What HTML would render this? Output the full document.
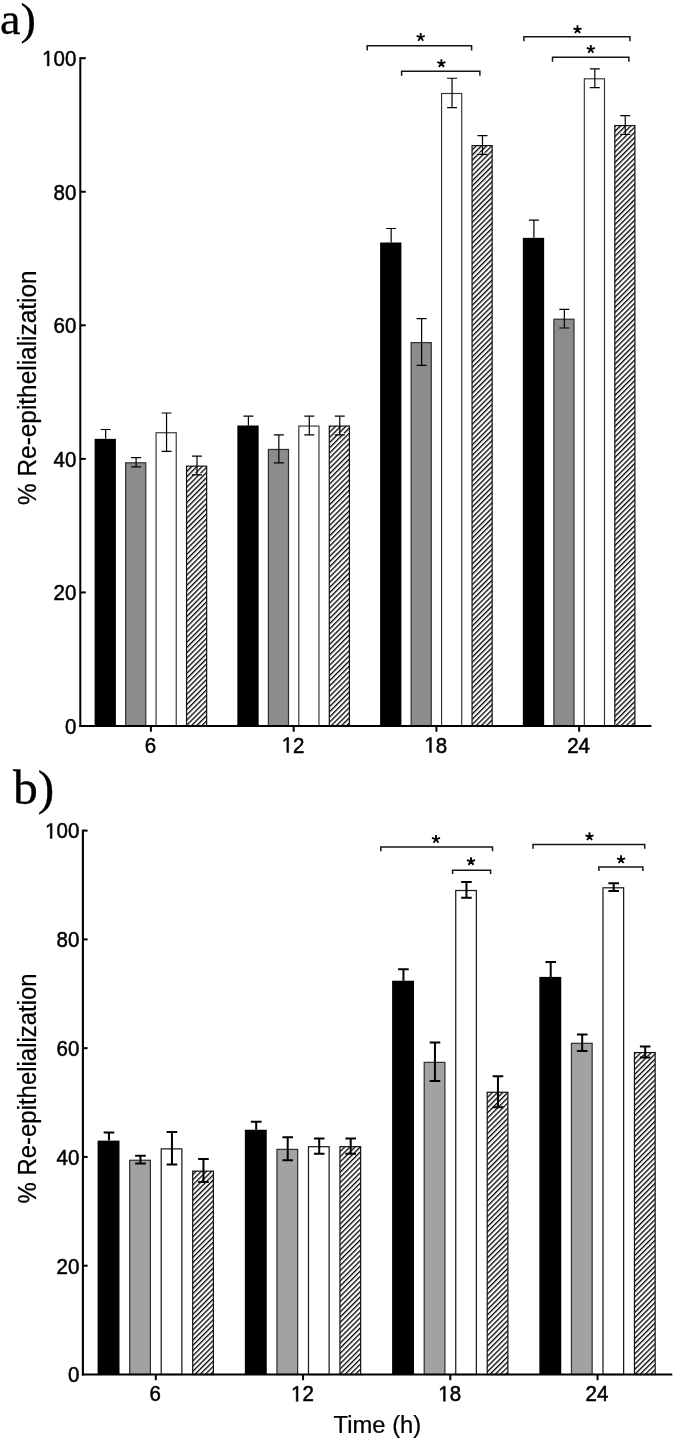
<!DOCTYPE html>
<html><head><meta charset="utf-8"><title>Re-epithelialization</title>
<style>html,body{margin:0;padding:0;background:#fff}body{width:675px;height:1440px;overflow:hidden;font-family:"Liberation Sans",sans-serif}svg{display:block;filter:grayscale(1)}</style>
</head><body>
<svg width="675" height="1440" viewBox="0 0 675 1440">
<defs><pattern id="hatch" patternUnits="userSpaceOnUse" width="3.66" height="3.66" patternTransform="rotate(45)"><rect width="3.66" height="3.66" fill="#fff"/><rect x="0" y="0" width="1.3" height="3.66" fill="#000"/></pattern></defs>
<rect width="675" height="1440" fill="#fff"/>
<rect x="94.6" y="438.85" width="21.3" height="287.15" fill="#000"/>
<path d="M105.65 438.85V429.5M100.65 429.5H110.65" stroke="#000" stroke-width="1.2" fill="none"/>
<rect x="125.65" y="462.82" width="20.1" height="263.18" fill="#8c8c8c" stroke="#2e2e2e" stroke-width="1.2"/>
<path d="M136.1 457.54V466.89M131.1 457.54H141.1M131.1 466.89H141.1" stroke="#000" stroke-width="1.2" fill="none"/>
<rect x="156.07" y="432.74" width="20.15" height="293.26" fill="#fff" stroke="#333" stroke-width="1.15"/>
<path d="M166.55 413V451.33M161.55 413H171.55M161.55 451.33H171.55" stroke="#000" stroke-width="1.2" fill="none"/>
<rect x="186.55" y="466.16" width="20.1" height="259.84" fill="url(#hatch)" stroke="#111" stroke-width="1.2"/>
<path d="M192.5 473.76H196.35M197.65 473.76H201.5" stroke="#fff" stroke-width="1" fill="none"/>
<path d="M197 456.21V474.91M192 456.21H202M192 474.91H202" stroke="#000" stroke-width="1.2" fill="none"/>
<rect x="237.35" y="425.49" width="21.3" height="300.51" fill="#000"/>
<path d="M248.4 425.49V416.14M243.4 416.14H253.4" stroke="#000" stroke-width="1.2" fill="none"/>
<rect x="268.4" y="449.46" width="20.1" height="276.54" fill="#8c8c8c" stroke="#2e2e2e" stroke-width="1.2"/>
<path d="M278.85 434.84V462.89M273.85 434.84H283.85M273.85 462.89H283.85" stroke="#000" stroke-width="1.2" fill="none"/>
<rect x="298.82" y="426.06" width="20.15" height="299.94" fill="#fff" stroke="#333" stroke-width="1.15"/>
<path d="M309.3 416.14V434.84M304.3 416.14H314.3M304.3 434.84H314.3" stroke="#000" stroke-width="1.2" fill="none"/>
<rect x="329.3" y="426.09" width="20.1" height="299.91" fill="url(#hatch)" stroke="#111" stroke-width="1.2"/>
<path d="M335.25 433.69H339.1M340.4 433.69H344.25" stroke="#fff" stroke-width="1" fill="none"/>
<path d="M339.75 416.14V434.84M334.75 416.14H344.75M334.75 434.84H344.75" stroke="#000" stroke-width="1.2" fill="none"/>
<rect x="380.1" y="242.51" width="21.3" height="483.49" fill="#000"/>
<path d="M391.15 242.51V228.49M386.15 228.49H396.15" stroke="#000" stroke-width="1.2" fill="none"/>
<rect x="411.15" y="342.62" width="20.1" height="383.38" fill="#8c8c8c" stroke="#2e2e2e" stroke-width="1.2"/>
<path d="M421.6 318.64V365.39M416.6 318.64H426.6M416.6 365.39H426.6" stroke="#000" stroke-width="1.2" fill="none"/>
<rect x="441.57" y="93.5" width="20.15" height="632.5" fill="#fff" stroke="#333" stroke-width="1.15"/>
<path d="M452.05 78.23V107.62M447.05 78.23H457.05M447.05 107.62H457.05" stroke="#000" stroke-width="1.2" fill="none"/>
<rect x="472.05" y="145.61" width="20.1" height="580.39" fill="url(#hatch)" stroke="#111" stroke-width="1.2"/>
<path d="M478 153.21H481.85M483.15 153.21H487" stroke="#fff" stroke-width="1" fill="none"/>
<path d="M482.5 135.66V154.36M477.5 135.66H487.5M477.5 154.36H487.5" stroke="#000" stroke-width="1.2" fill="none"/>
<rect x="522.85" y="237.84" width="21.3" height="488.16" fill="#000"/>
<path d="M533.9 237.84V220.14M528.9 220.14H538.9" stroke="#000" stroke-width="1.2" fill="none"/>
<rect x="553.9" y="319.24" width="20.1" height="406.76" fill="#8c8c8c" stroke="#2e2e2e" stroke-width="1.2"/>
<path d="M564.35 309.29V327.99M559.35 309.29H569.35M559.35 327.99H569.35" stroke="#000" stroke-width="1.2" fill="none"/>
<rect x="584.33" y="78.81" width="20.15" height="647.19" fill="#fff" stroke="#333" stroke-width="1.15"/>
<path d="M594.8 68.88V87.58M589.8 68.88H599.8M589.8 87.58H599.8" stroke="#000" stroke-width="1.2" fill="none"/>
<rect x="614.8" y="125.58" width="20.1" height="600.42" fill="url(#hatch)" stroke="#111" stroke-width="1.2"/>
<path d="M620.75 133.18H624.6M625.9 133.18H629.75" stroke="#fff" stroke-width="1" fill="none"/>
<path d="M625.25 115.63V134.33M620.25 115.63H630.25M620.25 134.33H630.25" stroke="#000" stroke-width="1.2" fill="none"/>
<rect x="79.3" y="57.2" width="2" height="669.8" fill="#000"/>
<rect x="79.3" y="725" width="572.1" height="2" fill="#000"/>
<rect x="80.3" y="591.44" width="5.5" height="2" fill="#000"/>
<rect x="80.3" y="457.88" width="5.5" height="2" fill="#000"/>
<rect x="80.3" y="324.32" width="5.5" height="2" fill="#000"/>
<rect x="80.3" y="190.76" width="5.5" height="2" fill="#000"/>
<rect x="80.3" y="57.2" width="5.5" height="2" fill="#000"/>
<text transform="translate(76.3 733.8) scale(0.94 1)" font-family='"Liberation Sans", sans-serif' font-size="21.8" text-anchor="end" fill="#000" stroke="#000" stroke-width="0.5">0</text>
<text transform="translate(76.3 600.24) scale(0.94 1)" font-family='"Liberation Sans", sans-serif' font-size="21.8" text-anchor="end" fill="#000" stroke="#000" stroke-width="0.5">20</text>
<text transform="translate(76.3 466.68) scale(0.94 1)" font-family='"Liberation Sans", sans-serif' font-size="21.8" text-anchor="end" fill="#000" stroke="#000" stroke-width="0.5">40</text>
<text transform="translate(76.3 333.12) scale(0.94 1)" font-family='"Liberation Sans", sans-serif' font-size="21.8" text-anchor="end" fill="#000" stroke="#000" stroke-width="0.5">60</text>
<text transform="translate(76.3 199.56) scale(0.94 1)" font-family='"Liberation Sans", sans-serif' font-size="21.8" text-anchor="end" fill="#000" stroke="#000" stroke-width="0.5">80</text>
<path transform="translate(42.11 66) scale(0.01001 -0.01064)" d="M515 0V1237L197 1010V1180L530 1409H696V0Z" fill="#000" stroke="#000" stroke-width="46.97"/>
<text transform="translate(53.51 66) scale(0.94 1)" font-family='"Liberation Sans", sans-serif' font-size="21.8" text-anchor="start" fill="#000" stroke="#000" stroke-width="0.5">00</text>
<rect x="149.92" y="726" width="2" height="5.7" fill="#000"/>
<text transform="translate(150.32 752.5) scale(0.94 1)" font-family='"Liberation Sans", sans-serif' font-size="21.8" text-anchor="middle" fill="#000" stroke="#000" stroke-width="0.5">6</text>
<rect x="292.68" y="726" width="2" height="5.7" fill="#000"/>
<path transform="translate(281.68 752.5) scale(0.01001 -0.01064)" d="M515 0V1237L197 1010V1180L530 1409H696V0Z" fill="#000" stroke="#000" stroke-width="46.97"/>
<text transform="translate(293.07 752.5) scale(0.94 1)" font-family='"Liberation Sans", sans-serif' font-size="21.8" text-anchor="start" fill="#000" stroke="#000" stroke-width="0.5">2</text>
<rect x="435.43" y="726" width="2" height="5.7" fill="#000"/>
<path transform="translate(424.43 752.5) scale(0.01001 -0.01064)" d="M515 0V1237L197 1010V1180L530 1409H696V0Z" fill="#000" stroke="#000" stroke-width="46.97"/>
<text transform="translate(435.82 752.5) scale(0.94 1)" font-family='"Liberation Sans", sans-serif' font-size="21.8" text-anchor="start" fill="#000" stroke="#000" stroke-width="0.5">8</text>
<rect x="578.18" y="726" width="2" height="5.7" fill="#000"/>
<text transform="translate(578.58 752.5) scale(0.94 1)" font-family='"Liberation Sans", sans-serif' font-size="21.8" text-anchor="middle" fill="#000" stroke="#000" stroke-width="0.5">24</text>
<text transform="translate(36 387.7) rotate(-90) scale(0.968 1)" font-family='"Liberation Sans", sans-serif' font-size="25.2" text-anchor="middle" fill="#000" stroke="#000" stroke-width="0.25">% Re-epithelialization</text>
<path d="M367.2 50.5V45.85H471.6V50.5" stroke="#151515" stroke-width="1.5" fill="none"/>
<path d="M420.7 37.3L420.7 33.05M420.7 37.3L424.74 35.99M420.7 37.3L423.2 40.74M420.7 37.3L418.2 40.74M420.7 37.3L416.66 35.99" stroke="#000" stroke-width="1.85" fill="none" stroke-linecap="butt"/>
<path d="M401.6 75.8V71.3H479.9V75.8" stroke="#151515" stroke-width="1.5" fill="none"/>
<path d="M441.4 63.4L441.4 59.15M441.4 63.4L445.44 62.09M441.4 63.4L443.9 66.84M441.4 63.4L438.9 66.84M441.4 63.4L437.36 62.09" stroke="#000" stroke-width="1.85" fill="none" stroke-linecap="butt"/>
<path d="M523.9 41.3V36.8H629.9V41.3" stroke="#151515" stroke-width="1.5" fill="none"/>
<path d="M577.5 29.6L577.5 25.35M577.5 29.6L581.54 28.29M577.5 29.6L580 33.04M577.5 29.6L575 33.04M577.5 29.6L573.46 28.29" stroke="#000" stroke-width="1.85" fill="none" stroke-linecap="butt"/>
<path d="M552.5 61.7V57.2H628.9V61.7" stroke="#151515" stroke-width="1.5" fill="none"/>
<path d="M590.8 49.3L590.8 45.05M590.8 49.3L594.84 47.99M590.8 49.3L593.3 52.74M590.8 49.3L588.3 52.74M590.8 49.3L586.76 47.99" stroke="#000" stroke-width="1.85" fill="none" stroke-linecap="butt"/>
<text transform="translate(0 33.6) scale(1.05 1)" font-family='"Liberation Serif", serif' font-size="44" text-anchor="start" fill="#000" stroke="#000" stroke-width="0.3">a)</text>
<rect x="97.6" y="1140.62" width="21.9" height="233.88" fill="#000"/>
<path d="M108.95 1140.62V1132.46M103.65 1132.46H114.25" stroke="#000" stroke-width="2" fill="none"/>
<rect x="129.7" y="1160.26" width="20.7" height="214.24" fill="#a2a2a2" stroke="#2e2e2e" stroke-width="1.2"/>
<path d="M140.45 1155.85V1163.47M135.15 1155.85H145.75M135.15 1163.47H145.75" stroke="#000" stroke-width="2" fill="none"/>
<rect x="161.22" y="1148.86" width="20.65" height="225.64" fill="#fff" stroke="#1c1c1c" stroke-width="1.25"/>
<path d="M171.95 1131.92V1164.55M166.65 1131.92H177.25M166.65 1164.55H177.25" stroke="#000" stroke-width="2" fill="none"/>
<rect x="192.7" y="1171.14" width="20.7" height="203.36" fill="url(#hatch)" stroke="#111" stroke-width="1.2"/>
<path d="M203.45 1159.12V1181.96M198.15 1159.12H208.75M198.15 1181.96H208.75" stroke="#000" stroke-width="2" fill="none"/>
<rect x="244.85" y="1129.74" width="21.9" height="244.76" fill="#000"/>
<path d="M256.2 1129.74V1121.86M250.9 1121.86H261.5" stroke="#000" stroke-width="2" fill="none"/>
<rect x="276.95" y="1149.38" width="20.7" height="225.12" fill="#a2a2a2" stroke="#2e2e2e" stroke-width="1.2"/>
<path d="M287.7 1137.36V1160.2M282.4 1137.36H293M282.4 1160.2H293" stroke="#000" stroke-width="2" fill="none"/>
<rect x="308.48" y="1146.69" width="20.65" height="227.81" fill="#fff" stroke="#1c1c1c" stroke-width="1.25"/>
<path d="M319.2 1138.45V1153.68M313.9 1138.45H324.5M313.9 1153.68H324.5" stroke="#000" stroke-width="2" fill="none"/>
<rect x="339.95" y="1146.66" width="20.7" height="227.84" fill="url(#hatch)" stroke="#111" stroke-width="1.2"/>
<path d="M350.7 1138.45V1153.68M345.4 1138.45H356M345.4 1153.68H356" stroke="#000" stroke-width="2" fill="none"/>
<rect x="392.1" y="980.72" width="21.9" height="393.78" fill="#000"/>
<path d="M403.45 980.72V969.29M398.15 969.29H408.75" stroke="#000" stroke-width="2" fill="none"/>
<rect x="424.2" y="1062.36" width="20.7" height="312.14" fill="#a2a2a2" stroke="#2e2e2e" stroke-width="1.2"/>
<path d="M434.95 1042.45V1081.07M429.65 1042.45H440.25M429.65 1081.07H440.25" stroke="#000" stroke-width="2" fill="none"/>
<rect x="455.73" y="890.51" width="20.65" height="483.99" fill="#fff" stroke="#1c1c1c" stroke-width="1.25"/>
<path d="M466.45 882V897.77M461.15 882H471.75M461.15 897.77H471.75" stroke="#000" stroke-width="2" fill="none"/>
<rect x="487.2" y="1092.27" width="20.7" height="282.23" fill="url(#hatch)" stroke="#111" stroke-width="1.2"/>
<path d="M497.95 1076.17V1107.17M492.65 1076.17H503.25M492.65 1107.17H503.25" stroke="#000" stroke-width="2" fill="none"/>
<rect x="539.35" y="976.91" width="21.9" height="397.59" fill="#000"/>
<path d="M550.7 976.91V961.95M545.4 961.95H556" stroke="#000" stroke-width="2" fill="none"/>
<rect x="571.45" y="1043.32" width="20.7" height="331.18" fill="#a2a2a2" stroke="#2e2e2e" stroke-width="1.2"/>
<path d="M582.2 1034.56V1050.88M576.9 1034.56H587.5M576.9 1050.88H587.5" stroke="#000" stroke-width="2" fill="none"/>
<rect x="602.98" y="887.79" width="20.65" height="486.71" fill="#fff" stroke="#1c1c1c" stroke-width="1.25"/>
<path d="M613.7 883.36V890.97M608.4 883.36H619M608.4 890.97H619" stroke="#000" stroke-width="2" fill="none"/>
<rect x="634.45" y="1052.57" width="20.7" height="321.93" fill="url(#hatch)" stroke="#111" stroke-width="1.2"/>
<path d="M645.2 1046.53V1057.41M639.9 1046.53H650.5M639.9 1057.41H650.5" stroke="#000" stroke-width="2" fill="none"/>
<rect x="81.85" y="829.6" width="2.1" height="545.9" fill="#000"/>
<rect x="81.85" y="1373.5" width="590.45" height="2" fill="#000"/>
<rect x="82.9" y="1264.72" width="4.7" height="2" fill="#000"/>
<rect x="82.9" y="1155.94" width="4.7" height="2" fill="#000"/>
<rect x="82.9" y="1047.16" width="4.7" height="2" fill="#000"/>
<rect x="82.9" y="938.38" width="4.7" height="2" fill="#000"/>
<rect x="82.9" y="829.6" width="4.7" height="2" fill="#000"/>
<text transform="translate(79.3 1382.3) scale(0.94 1)" font-family='"Liberation Sans", sans-serif' font-size="21.8" text-anchor="end" fill="#000" stroke="#000" stroke-width="0.5">0</text>
<text transform="translate(79.3 1273.52) scale(0.94 1)" font-family='"Liberation Sans", sans-serif' font-size="21.8" text-anchor="end" fill="#000" stroke="#000" stroke-width="0.5">20</text>
<text transform="translate(79.3 1164.74) scale(0.94 1)" font-family='"Liberation Sans", sans-serif' font-size="21.8" text-anchor="end" fill="#000" stroke="#000" stroke-width="0.5">40</text>
<text transform="translate(79.3 1055.96) scale(0.94 1)" font-family='"Liberation Sans", sans-serif' font-size="21.8" text-anchor="end" fill="#000" stroke="#000" stroke-width="0.5">60</text>
<text transform="translate(79.3 947.18) scale(0.94 1)" font-family='"Liberation Sans", sans-serif' font-size="21.8" text-anchor="end" fill="#000" stroke="#000" stroke-width="0.5">80</text>
<path transform="translate(45.11 838.4) scale(0.01001 -0.01064)" d="M515 0V1237L197 1010V1180L530 1409H696V0Z" fill="#000" stroke="#000" stroke-width="46.97"/>
<text transform="translate(56.51 838.4) scale(0.94 1)" font-family='"Liberation Sans", sans-serif' font-size="21.8" text-anchor="start" fill="#000" stroke="#000" stroke-width="0.5">00</text>
<rect x="154.8" y="1374.5" width="2" height="5.7" fill="#000"/>
<text transform="translate(155.2 1401.3) scale(0.94 1)" font-family='"Liberation Sans", sans-serif' font-size="21.8" text-anchor="middle" fill="#000" stroke="#000" stroke-width="0.5">6</text>
<rect x="302.05" y="1374.5" width="2" height="5.7" fill="#000"/>
<path transform="translate(291.05 1401.3) scale(0.01001 -0.01064)" d="M515 0V1237L197 1010V1180L530 1409H696V0Z" fill="#000" stroke="#000" stroke-width="46.97"/>
<text transform="translate(302.45 1401.3) scale(0.94 1)" font-family='"Liberation Sans", sans-serif' font-size="21.8" text-anchor="start" fill="#000" stroke="#000" stroke-width="0.5">2</text>
<rect x="449.3" y="1374.5" width="2" height="5.7" fill="#000"/>
<path transform="translate(438.3 1401.3) scale(0.01001 -0.01064)" d="M515 0V1237L197 1010V1180L530 1409H696V0Z" fill="#000" stroke="#000" stroke-width="46.97"/>
<text transform="translate(449.7 1401.3) scale(0.94 1)" font-family='"Liberation Sans", sans-serif' font-size="21.8" text-anchor="start" fill="#000" stroke="#000" stroke-width="0.5">8</text>
<rect x="596.55" y="1374.5" width="2" height="5.7" fill="#000"/>
<text transform="translate(596.95 1401.3) scale(0.94 1)" font-family='"Liberation Sans", sans-serif' font-size="21.8" text-anchor="middle" fill="#000" stroke="#000" stroke-width="0.5">24</text>
<text transform="translate(36 1088.4) rotate(-90) scale(0.95 1)" font-family='"Liberation Sans", sans-serif' font-size="25.2" text-anchor="middle" fill="#000" stroke="#000" stroke-width="0.25">% Re-epithelialization</text>
<path d="M380.8 851.2V847.1H492.5V851.2" stroke="#151515" stroke-width="1.5" fill="none"/>
<path d="M436 839.3L436 835.05M436 839.3L440.04 837.99M436 839.3L438.5 842.74M436 839.3L433.5 842.74M436 839.3L431.96 837.99" stroke="#000" stroke-width="1.85" fill="none" stroke-linecap="butt"/>
<path d="M452.6 874.1V870.2H490.6V874.1" stroke="#151515" stroke-width="1.5" fill="none"/>
<path d="M471 861.4L471 857.15M471 861.4L475.04 860.09M471 861.4L473.5 864.84M471 861.4L468.5 864.84M471 861.4L466.96 860.09" stroke="#000" stroke-width="1.85" fill="none" stroke-linecap="butt"/>
<path d="M533 848.8V844.6H644.7V848.8" stroke="#151515" stroke-width="1.5" fill="none"/>
<path d="M589.5 836.6L589.5 832.35M589.5 836.6L593.54 835.29M589.5 836.6L592 840.04M589.5 836.6L587 840.04M589.5 836.6L585.46 835.29" stroke="#000" stroke-width="1.85" fill="none" stroke-linecap="butt"/>
<path d="M598.9 871.1V867.1H642.9V871.1" stroke="#151515" stroke-width="1.5" fill="none"/>
<path d="M621.1 859.6L621.1 855.35M621.1 859.6L625.14 858.29M621.1 859.6L623.6 863.04M621.1 859.6L618.6 863.04M621.1 859.6L617.06 858.29" stroke="#000" stroke-width="1.85" fill="none" stroke-linecap="butt"/>
<text transform="translate(13 803.6) scale(1.035 1)" font-family='"Liberation Serif", serif' font-size="48" text-anchor="start" fill="#000" stroke="#000" stroke-width="0.3">b)</text>
<text transform="translate(377.4 1433) scale(0.967 1)" font-family='"Liberation Sans", sans-serif' font-size="24.6" text-anchor="middle" fill="#000" stroke="#000" stroke-width="0.25">Time (h)</text>
</svg></body></html>
